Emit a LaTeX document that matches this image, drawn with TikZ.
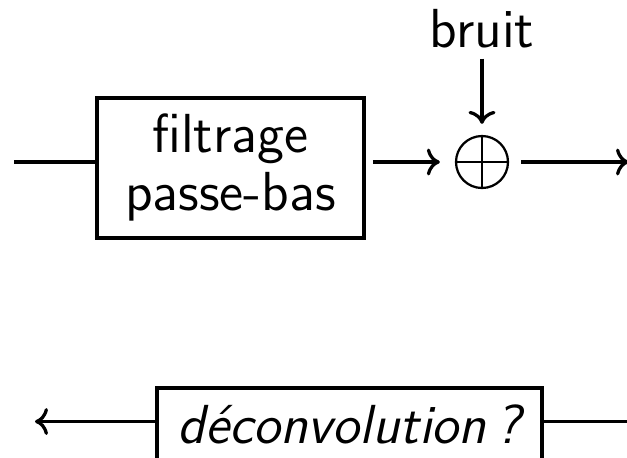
\documentclass[tikz,border=0pt]{standalone}
\usepackage{fontspec}
\usetikzlibrary{calc,arrows.meta}
\begin{document}
\begin{tikzpicture}[x=0.2pt,y=-0.2pt,
  every node/.style={font=\fontsize{11}{11.6}\selectfont\sffamily},
  blockbox/.style={draw,line width=0.8pt,inner sep=0pt,align=center},
  conn/.style={line width=0.65pt},
  sumnode/.style={circle,draw,line width=0.45pt,minimum size=10.4pt,inner sep=0pt,
    path picture={\draw[line width=0.45pt] (path picture bounding box.north) -- (path picture bounding box.south)
      (path picture bounding box.west) -- (path picture bounding box.east);}},
  >={To[length=2.6pt,width=5.4pt]}]
\useasboundingbox (0,0) rectangle (627,457);
\node[blockbox,minimum width=53.5pt,minimum height=28pt] (filt) at (230.5,167.5) {filtrage\\passe-bas};
\node[sumnode] (sum) at (482,162) {};
\node[anchor=base,inner ysep=1pt] (bruit) at (482,47) {bruit};
\coordinate (in) at (14,162);
\coordinate (out) at (629,162);
\draw[conn] (in) -- (in -| filt.west);
\draw[conn,->,shorten <=1.3pt,shorten >=3pt] (filt.east |- sum) -- (sum.west);
\draw[conn,->,shorten <=1pt,shorten >=2.2pt] (bruit.south) -- (sum.north);
\draw[conn,->,shorten <=2.4pt] (sum.east) -- (out);
\node[blockbox,anchor=north,minimum width=77pt,minimum height=16pt,text height=7.6pt,text depth=1.2pt] (deconv) at (349.5,385.5) {\itshape déconvolution\,?};
\coordinate (in2) at (640,421.5);
\coordinate (out2) at (35,421.5);
\draw[conn] (in2) -- (in2 -| deconv.east);
\draw[conn,->] (out2 -| deconv.west) -- (out2);
\end{tikzpicture}
\end{document}
